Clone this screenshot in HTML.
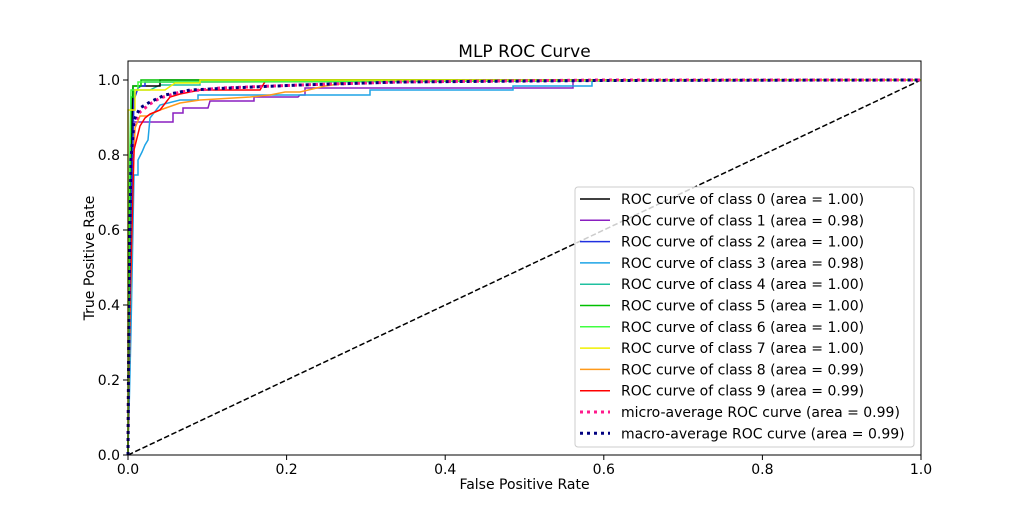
<!DOCTYPE html>
<html><head><meta charset="utf-8"><style>
body{margin:0;background:#fff;}
svg{display:block;font-family:"DejaVu Sans","Liberation Sans",sans-serif;}
</style></head><body>
<svg width="1024" height="512" viewBox="0 0 1024 512">
<rect width="1024" height="512" fill="#fff"/>
<text x="524.5" y="57" font-size="17" text-anchor="middle">MLP ROC Curve</text>
<g fill="none" stroke-width="1.5">
<line x1="128" y1="455" x2="921" y2="80" stroke="#000" stroke-dasharray="5.5,2.5"/>
<polyline stroke="#8a1fc0" points="128,455 129,300 131,140 132,122 173,122 173,113 183,113 183,108 208,108 210,101 254,101 254,97 298,97 300,95 305,95 305,88 573,88 573,80 921,80"/>
<polyline stroke="#1ea4e6" points="128,455 131,330 134,175 138,175 138,160 142,152 145,145 148,140 150,118 160,105 180,100 198,100 198,95 370,95 370,90 513,90 513,86 592,86 592,80 921,80"/>
<polyline stroke="#ff9a1a" points="128,455 130,320 133,180 135,128 140,116 147,116 160,110 180,103 200,100 250,97 270,95 285,92 300,92 325,86 340,84 341,80 921,80"/>
<polyline stroke="#f00" points="128,455 130,300 134,150 140,126 145,118 150,114 160,110 170,97 180,94 190,92 200,90 260,90 266,80 921,80"/>
<polyline stroke="#20c0a0" points="128,455 130,200 132,98 134,98 134,90 150,90 160,85 200,85 200,80 921,80"/>
<polyline stroke="#000" points="128,455 130,200 133,86 160,86 160,80 921,80"/>
<polyline stroke="#2030e0" points="128,455 130,250 134,100 138,88 141,86 145,86 145,82 200,82 921,80"/>
<polyline stroke="#00c000" points="128,455 129,300 131,97 133,97 133,86 141,86 141,80 196,80 921,80"/>
<polyline stroke="#40ff40" points="128,455 129,200 131,90 138,90 138,82 160,82 921,80"/>
<polyline stroke="#f0f000" points="128,455 128,110 135,110 135,90 165,90 175,83 200,83 200,80 921,80"/>
<polyline stroke="#ff1a8c" stroke-width="3" stroke-dasharray="3,4" points="128,455 129,300 131,170 134,125 140,112 150,104 160,98 180,92 220,88 300,85 400,82 600,80 921,80"/>
<polyline stroke="#000080" stroke-width="3" stroke-dasharray="3,4" points="128,455 129,300 131,160 134,120 140,108 150,102 165,95 190,90 230,88 300,85 400,82 600,80.5 921,80"/>
</g>
<rect x="128" y="61" width="793" height="394" fill="none" stroke="#000" stroke-width="1"/>
<g stroke="#000" stroke-width="1">
<line x1="128" y1="455" x2="128" y2="460"/><line x1="286.6" y1="455" x2="286.6" y2="460"/><line x1="445.2" y1="455" x2="445.2" y2="460"/><line x1="603.8" y1="455" x2="603.8" y2="460"/><line x1="762.4" y1="455" x2="762.4" y2="460"/><line x1="921" y1="455" x2="921" y2="460"/>
<line x1="123" y1="455" x2="128" y2="455"/><line x1="123" y1="380" x2="128" y2="380"/><line x1="123" y1="305" x2="128" y2="305"/><line x1="123" y1="230" x2="128" y2="230"/><line x1="123" y1="155" x2="128" y2="155"/><line x1="123" y1="80" x2="128" y2="80"/>
</g>
<g font-size="14" text-anchor="middle">
<text x="128" y="474">0.0</text><text x="286.6" y="474">0.2</text><text x="445.2" y="474">0.4</text><text x="603.8" y="474">0.6</text><text x="762.4" y="474">0.8</text><text x="921" y="474">1.0</text>
</g>
<g font-size="14" text-anchor="end">
<text x="120" y="460">0.0</text><text x="120" y="385">0.2</text><text x="120" y="310">0.4</text><text x="120" y="235">0.6</text><text x="120" y="160">0.8</text><text x="120" y="85">1.0</text>
</g>
<text x="524.5" y="489" font-size="14" text-anchor="middle">False Positive Rate</text>
<text transform="translate(94,258) rotate(-90)" font-size="14" text-anchor="middle">True Positive Rate</text>
<rect x="575" y="187" width="339" height="260" rx="3" fill="#fff" fill-opacity="0.8" stroke="#ccc"/>
<g font-size="14" stroke-width="1.5">
<line x1="580" y1="199" x2="610" y2="199" stroke="#000"/><text x="621" y="204">ROC curve of class 0 (area = 1.00)</text>
<line x1="580" y1="220.3" x2="610" y2="220.3" stroke="#8a1fc0"/><text x="621" y="225.3">ROC curve of class 1 (area = 0.98)</text>
<line x1="580" y1="241.6" x2="610" y2="241.6" stroke="#2030e0"/><text x="621" y="246.6">ROC curve of class 2 (area = 1.00)</text>
<line x1="580" y1="262.9" x2="610" y2="262.9" stroke="#1ea4e6"/><text x="621" y="267.9">ROC curve of class 3 (area = 0.98)</text>
<line x1="580" y1="284.2" x2="610" y2="284.2" stroke="#20c0a0"/><text x="621" y="289.2">ROC curve of class 4 (area = 1.00)</text>
<line x1="580" y1="305.5" x2="610" y2="305.5" stroke="#00c000"/><text x="621" y="310.5">ROC curve of class 5 (area = 1.00)</text>
<line x1="580" y1="326.8" x2="610" y2="326.8" stroke="#40ff40"/><text x="621" y="331.8">ROC curve of class 6 (area = 1.00)</text>
<line x1="580" y1="348.1" x2="610" y2="348.1" stroke="#f0f000"/><text x="621" y="353.1">ROC curve of class 7 (area = 1.00)</text>
<line x1="580" y1="369.4" x2="610" y2="369.4" stroke="#ff9a1a"/><text x="621" y="374.4">ROC curve of class 8 (area = 0.99)</text>
<line x1="580" y1="390.7" x2="610" y2="390.7" stroke="#f00"/><text x="621" y="395.7">ROC curve of class 9 (area = 0.99)</text>
<line x1="580" y1="412" x2="610" y2="412" stroke="#ff1a8c" stroke-width="3" stroke-dasharray="3,4"/><text x="621" y="417">micro-average ROC curve (area = 0.99)</text>
<line x1="580" y1="433.3" x2="610" y2="433.3" stroke="#000080" stroke-width="3" stroke-dasharray="3,4"/><text x="621" y="438.3">macro-average ROC curve (area = 0.99)</text>
</g>
</svg>
</body></html>
